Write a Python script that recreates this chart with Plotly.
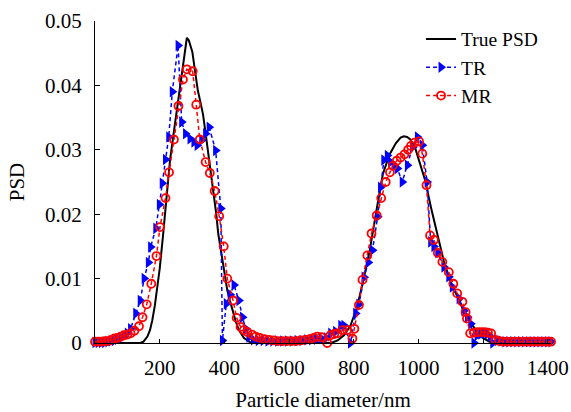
import plotly.graph_objects as go

# ---- True PSD ----
true_x = [0, 50, 100, 140, 150, 162, 170, 177, 185, 193, 200, 210, 220, 232, 245, 258, 270, 278, 284,
          290, 301, 310, 318, 326, 334, 344, 353, 361, 368, 375, 381, 388, 394, 402, 409, 417, 425, 435,
          445, 460, 476, 490, 520, 600, 700, 730, 750, 770, 790, 810, 830, 850, 870, 890, 910, 930, 945,
          955, 965, 975, 990, 1005, 1020, 1040, 1060, 1080, 1100, 1120, 1140, 1160, 1180, 1200, 1220,
          1240, 1300, 1410]
true_y = [0, 0, 0, 0, 0.0002, 0.001, 0.002, 0.0035, 0.0058, 0.0088, 0.0115, 0.0165, 0.022, 0.0284,
          0.0332, 0.038, 0.0423, 0.0452, 0.0474,
          0.0470, 0.0452, 0.0420, 0.0392, 0.0374, 0.0355, 0.0318, 0.0284, 0.0257, 0.0232, 0.0200, 0.0170,
          0.0148, 0.0128, 0.0104, 0.0082, 0.0066, 0.0051, 0.0034,
          0.0020, 0.0008, 0.0002, 0, 0, 0, 0, 0, 0.0004, 0.0012, 0.0027, 0.0055, 0.0098, 0.0145, 0.0205,
          0.0262, 0.0292, 0.0310, 0.0319,
          0.0321, 0.0320, 0.0316, 0.0303, 0.0280, 0.0254, 0.0208, 0.0165, 0.0124, 0.0095, 0.0072, 0.0050,
          0.0032, 0.0019, 0.0008, 0.0002,
          0, 0, 0]

# ---- TR ----
tr_x = [0, 10, 20, 30, 40, 50, 60, 70, 80, 90, 100, 110, 126, 140, 152, 165, 172, 188, 199, 208, 218,
        228, 239, 257, 268, 280, 294, 306, 316, 330, 342, 353, 373, 389, 394, 406, 418, 430, 445, 456,
        466, 476, 490, 505, 520, 535, 550, 565, 580, 595, 610, 625, 640, 655, 670, 685, 700, 715, 729,
        744, 760, 770, 790, 806, 816, 832, 845, 858, 874, 883, 893, 904, 914, 925, 935, 950, 966, 982,
        997, 1012, 1027, 1038, 1048, 1060, 1079, 1094, 1105, 1126, 1141, 1152, 1162, 1172, 1182, 1193,
        1203, 1213, 1223, 1230, 1244, 1256, 1268, 1280, 1292, 1304, 1316, 1328, 1340, 1352, 1364, 1376,
        1388, 1400, 1410]
tr_y = [0.0001, 0.0001, 0.0001, 0.0001, 0.0002, 0.0003, 0.0004, 0.0006, 0.0008, 0.0011, 0.0015, 0.0022,
        0.0046, 0.0066, 0.0100, 0.0125, 0.0149, 0.0178, 0.0215, 0.0248, 0.0285,
        0.0320, 0.0390, 0.0462, 0.0343, 0.0325, 0.0317, 0.0312, 0.0307, 0.0315, 0.0325, 0.0335, 0.0299,
        0.0209, 0.0004, 0.0061, 0.0075, 0.0090, 0.0066, 0.0040,
        0.0022, 0.0009, 0.0005, 0.0004, 0.0004, 0.0003, 0.0003, 0.0003, 0.0003, 0.0003, 0.0003, 0.0004,
        0.0004, 0.0005, 0.0005, 0.0006, 0.0007, 0.0008, 0.0015,
        0.0018, 0.0027, 0.0027, 0.0000, 0.0046, 0.0060, 0.0102, 0.0125, 0.0144, 0.0196, 0.0242, 0.0284,
        0.0291, 0.0281, 0.0276, 0.0271, 0.0250, 0.0276, 0.0304,
        0.0320, 0.0307, 0.0250, 0.0157, 0.0150, 0.0140, 0.0118, 0.0103, 0.0087, 0.0069, 0.0050, 0.0040,
        0.0030, 0.0000, 0.0012, 0.0014,
        0.0015, 0.0014, 0.0010, 0.0000, 0.0004, 0.0003, 0.0002, 0.0002, 0.0002, 0.0002, 0.0002, 0.0002,
        0.0002, 0.0002, 0.0002, 0.0002,
        0.0002, 0.0002, 0.0002]

# ---- MR ----
mr_x = [0, 10, 20, 30, 40, 50, 60, 70, 80, 90, 100, 110, 122, 136, 147, 160, 174, 190, 201, 218, 229,
        244, 258, 272, 284, 302, 313, 324, 342, 355, 370, 384, 398, 409, 427, 438, 450, 460, 471, 486,
        497, 510, 524, 538, 552, 566, 580, 594, 608, 622, 636, 650, 664, 676, 687, 700, 718, 728, 740,
        750, 765, 780, 796, 802, 816, 827, 842, 855, 871, 885, 899, 912, 921, 933, 945, 957, 968, 977,
        988, 1002, 1012, 1025, 1036, 1048, 1060, 1074, 1094, 1108, 1120, 1136, 1146, 1150, 1160, 1172,
        1183, 1194, 1205, 1215, 1225, 1238, 1250, 1262, 1275, 1288, 1300, 1312, 1325, 1338, 1350, 1362,
        1375, 1388, 1400, 1410]
mr_y = [0.0002, 0.0002, 0.0002, 0.0003, 0.0003, 0.0005, 0.0007, 0.0008, 0.0010, 0.0012, 0.0013, 0.0015,
        0.0019, 0.0026, 0.0040, 0.0060, 0.0092, 0.0135, 0.0180, 0.0225, 0.0265,
        0.0316, 0.0368, 0.0409, 0.0425, 0.0422, 0.0370, 0.0316, 0.0281, 0.0264, 0.0236, 0.0197, 0.0150,
        0.0100, 0.0066, 0.0039, 0.0025, 0.0020, 0.0017, 0.0013,
        0.0010, 0.0008, 0.0006, 0.0005, 0.0004, 0.0003, 0.0003, 0.0003, 0.0003, 0.0003, 0.0004, 0.0005,
        0.0006, 0.0008, 0.0010, 0.0009, 0.0000, 0.0012, 0.0014,
        0.0015, 0.0020, 0.0020, 0.0007, 0.0022, 0.0059, 0.0098, 0.0136, 0.0170, 0.0198, 0.0225, 0.0250,
        0.0265, 0.0275, 0.0283, 0.0288, 0.0293, 0.0300, 0.0306,
        0.0311, 0.0313, 0.0294, 0.0245, 0.0167, 0.0160, 0.0140, 0.0126, 0.0110, 0.0092, 0.0077, 0.0064,
        0.0048, 0.0038, 0.0015, 0.0016,
        0.0017, 0.0017, 0.0017, 0.0016, 0.0015, 0.0005, 0.0003, 0.0002, 0.0002, 0.0002, 0.0002, 0.0002,
        0.0002, 0.0002, 0.0002, 0.0002,
        0.0002, 0.0002, 0.0002, 0.0002]

x_ticks = [200, 400, 600, 800, 1000, 1200, 1400]
y_ticks = [0, 0.01, 0.02, 0.03, 0.04, 0.05]
y_ticktext = ["0", "0.01", "0.02", "0.03", "0.04", "0.05"]

FONT = "Liberation Serif"

fig = go.Figure()
fig.add_trace(go.Scatter(x=true_x, y=true_y, mode="lines", name="True PSD",
                         line=dict(color="black", width=2), cliponaxis=False))
fig.add_trace(go.Scatter(x=tr_x, y=tr_y, mode="lines+markers", name="TR",
                         line=dict(color="#0000ff", width=1.5, dash="4px,3px"),
                         marker=dict(symbol="triangle-right", size=10, color="#0000ff"),
                         cliponaxis=False))
fig.add_trace(go.Scatter(x=mr_x, y=mr_y, mode="lines+markers", name="MR",
                         line=dict(color="#ff0000", width=1.5, dash="4px,3px"),
                         marker=dict(symbol="circle-open", size=8, color="#ff0000",
                                     line=dict(width=1.8, color="#ff0000")),
                         cliponaxis=False))

fig.update_layout(
    width=571, height=412,
    margin=dict(l=95, r=20, t=21, b=69, autoexpand=False),
    paper_bgcolor="white", plot_bgcolor="white",
    font=dict(family=FONT, size=21, color="black"),
    showlegend=True,
    legend=dict(x=0.715, y=1.004, xanchor="left", yanchor="top",
                bgcolor="rgba(0,0,0,0)", font=dict(family=FONT, size=19.5, color="black"),
                tracegroupgap=0),
    xaxis=dict(range=[0, 1410], tickvals=x_ticks, ticks="inside", ticklen=4, tickcolor="black",
               showline=True, linecolor="black", linewidth=1.2, showgrid=False, zeroline=False,
               automargin=False,
               tickfont=dict(family=FONT, size=21, color="black"), ticklabelstandoff=6,
               title=dict(text="Particle diameter/nm", font=dict(family=FONT, size=21, color="black"),
                          standoff=14)),
    yaxis=dict(range=[0, 0.05], tickvals=y_ticks, ticktext=y_ticktext, ticks="inside", ticklen=5,
               tickcolor="black", showline=True, linecolor="black", linewidth=1.2, showgrid=False,
               zeroline=False, automargin=False,
               tickfont=dict(family=FONT, size=21, color="black"), ticklabelstandoff=8,
               title=dict(text="PSD", font=dict(family=FONT, size=21, color="black"), standoff=14)),
)

fig.write_html("out.html")
